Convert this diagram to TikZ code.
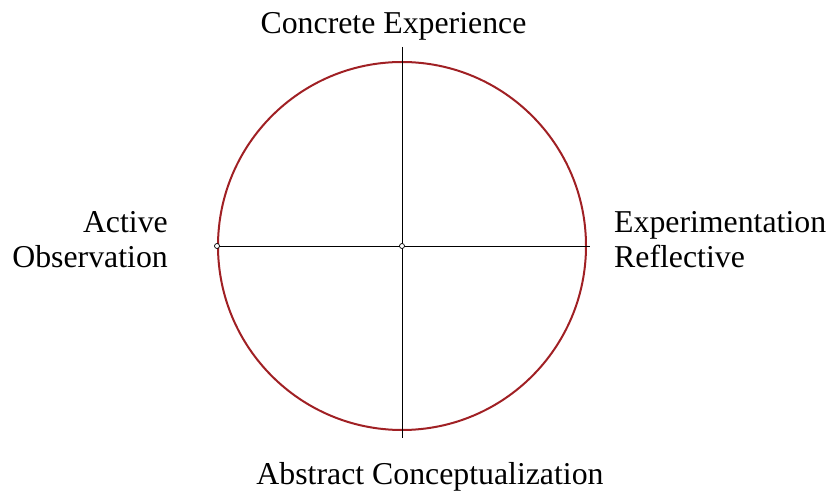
\documentclass[tikz,border=0pt]{standalone}
\usepackage{fontspec}
\setmainfont{Liberation Serif}
\usepackage{xcolor}
\usepackage{tikz}
\usetikzlibrary{positioning,calc}
\definecolor{kbred}{RGB}{160,32,36}

\begin{document}
\begin{tikzpicture}[
  x=1pt, y=1pt,
  font=\fontsize{31.8}{35}\selectfont,
  ring/.style={draw=kbred, circle, line width=2pt, minimum size=368pt, inner sep=0pt},
  axis/.style={draw=black, line width=0.9pt},
  pin/.style={draw=black, fill=white, circle, line width=0.7pt, minimum size=5pt, inner sep=0pt},
  lbl/.style={inner sep=0pt, align=center},
]
\useasboundingbox (0,0) rectangle (830,495);

% ============ Learning cycle ============
\node[ring] (cycle) at (402,249) {};

% ============ Axis ends ============
\coordinate (topend) at (402,448);
\coordinate (botend) at (402,57);
\coordinate (leftend) at (216,249);
\coordinate (rightend) at (590,249);

% ============ Axes ============
\draw[axis] (topend) -- (botend);
\draw[axis] (leftend) -- (rightend);

% ============ Pins ============
\node[pin] (centre) at (cycle.center) {};
\node[pin] (westpin) at (cycle.west) {};

% ============ Labels ============
\node[lbl, anchor=base] (ce) at (393.5,461) {Concrete Experience};
\node[lbl, anchor=base] (ac) at (430,10) {Abstract Conceptualization};
% (multi-line nodes: base = last line)
\node[lbl, anchor=base east, align=right] (ao) at (168,227) {Active\\Observation};
\node[lbl, anchor=base west, align=left] (er) at (614,227) {Experimentation\\Reflective};

\end{tikzpicture}
\end{document}
